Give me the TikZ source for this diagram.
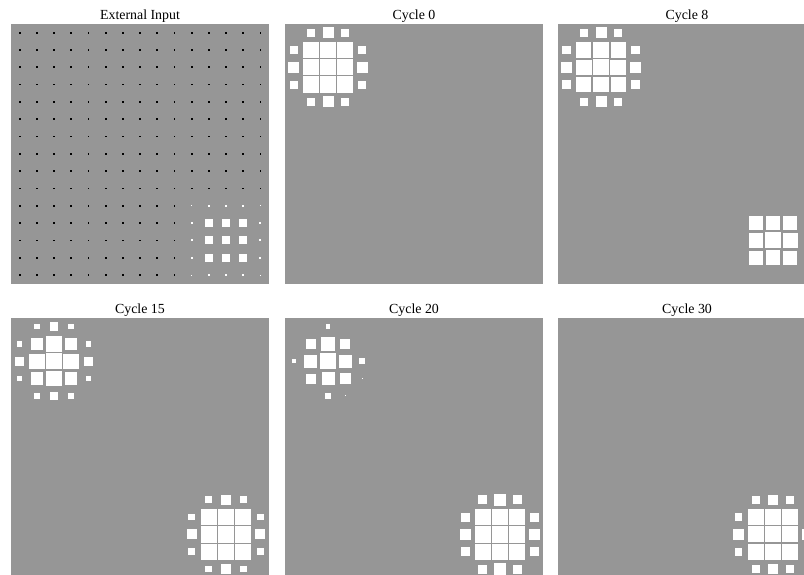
\documentclass[tikz,border=0pt]{standalone}
\usepackage{fontspec}
\setmainfont{Liberation Serif}
\definecolor{panelgray}{RGB}{150,150,150}
\tikzset{
  paneltitle/.style={anchor=base, font=\fontsize{10pt}{12pt}\selectfont, inner sep=0pt},
  panelbg/.style={fill=panelgray},
}
% square in cell (row, col) of size s (px), colour
\newcommand\hsq[4]{\fill[#4] ({(#2+0.5)*17.2-(#3)/2},{(#1+0.5)*17.313-(#3)/2}) rectangle ++(#3,#3);}
% blob: #1 R, #2 C, #3 core corner, #4 core edge, #5 core centre, #6 mid ring, #7 side ring
\newcommand\hblob[7]{%
  \hsq{#1}{#2}{#5}{white}%
  \hsq{#1-1}{#2}{#4}{white}\hsq{#1+1}{#2}{#4}{white}\hsq{#1}{#2-1}{#4}{white}\hsq{#1}{#2+1}{#4}{white}%
  \hsq{#1-1}{#2-1}{#3}{white}\hsq{#1-1}{#2+1}{#3}{white}\hsq{#1+1}{#2-1}{#3}{white}\hsq{#1+1}{#2+1}{#3}{white}%
  \hsq{#1-2}{#2}{#6}{white}\hsq{#1+2}{#2}{#6}{white}\hsq{#1}{#2-2}{#6}{white}\hsq{#1}{#2+2}{#6}{white}%
  \hsq{#1-2}{#2-1}{#7}{white}\hsq{#1-2}{#2+1}{#7}{white}\hsq{#1+2}{#2-1}{#7}{white}\hsq{#1+2}{#2+1}{#7}{white}%
  \hsq{#1-1}{#2-2}{#7}{white}\hsq{#1+1}{#2-2}{#7}{white}\hsq{#1-1}{#2+2}{#7}{white}\hsq{#1+1}{#2+2}{#7}{white}%
}
\newcommand\panelbox{\fill[panelbg] (0,0) rectangle (258,259.7);}
\begin{document}
\begin{tikzpicture}[x=0.72pt,y=-0.72pt]
\useasboundingbox (0,0) rectangle (804,575);
\clip (0,0) rectangle (804,575);
\fill[white] (0,0) rectangle (804,575);

% titles
\node[paneltitle] (t1) at (140,19.5) {External Input};
\node[paneltitle] (t2) at (414,19.5) {Cycle 0};
\node[paneltitle] (t3) at (687,19.5) {Cycle 8};
\node[paneltitle] (t4) at (140,313.5) {Cycle 15};
\node[paneltitle] (t5) at (414,313.5) {Cycle 20};
\node[paneltitle] (t6) at (687,313.5) {Cycle 30};

% External Input
\begin{scope}[shift={(11,24)}]
  \panelbox
  \foreach \r in {0,...,9} \foreach \c in {0,...,14} {\hsq{\r}{\c}{1.8}{black}}
  \foreach \r in {10,...,14} \foreach \c in {0,...,9} {\hsq{\r}{\c}{1.8}{black}}
  \hblob{12}{12}{8}{8}{8}{2}{2}
  \hsq{10}{10}{1}{white}\hsq{10}{14}{1}{white}\hsq{14}{10}{1}{white}\hsq{14}{14}{1}{white}
\end{scope}

% Cycle 0
\begin{scope}[shift={(285,24)}]
  \panelbox
  \hblob{2}{2}{16.2}{16.2}{16.2}{11}{8}
\end{scope}

% Cycle 8
\begin{scope}[shift={(558,24)}]
  \panelbox
  \hblob{2}{2}{15.2}{15.5}{15.8}{11}{8.3}
  \hsq{12}{12}{16}{white}
  \hsq{11}{12}{14.6}{white}\hsq{13}{12}{14.6}{white}\hsq{12}{11}{14.6}{white}\hsq{12}{13}{14.6}{white}
  \hsq{11}{11}{13.6}{white}\hsq{11}{13}{13.6}{white}\hsq{13}{11}{13.6}{white}\hsq{13}{13}{13.6}{white}
\end{scope}

% Cycle 15
\begin{scope}[shift={(11,318)}]
  \panelbox
  \hblob{2}{2}{12.5}{15.5}{16.2}{8.5}{5.5}
  \hblob{12}{12}{16.2}{16.2}{16.2}{10}{6.8}
\end{scope}

% Cycle 20
\begin{scope}[shift={(285,318)}]
  \panelbox
  \hsq{0}{2}{4.7}{white}
  \hsq{1}{1}{10}{white}\hsq{1}{2}{13.3}{white}\hsq{1}{3}{10}{white}
  \hsq{2}{0}{4}{white}\hsq{2}{1}{12.7}{white}\hsq{2}{2}{16}{white}\hsq{2}{3}{13}{white}\hsq{2}{4}{6}{white}
  \hsq{3}{1}{10}{white}\hsq{3}{2}{13}{white}\hsq{3}{3}{10.7}{white}\hsq{3}{4}{1}{white}
  \hsq{4}{2}{5.7}{white}\hsq{4}{3}{1}{white}
  \hblob{12}{12}{16.2}{16.2}{16.2}{11.7}{9}
\end{scope}

% Cycle 30
\begin{scope}[shift={(558,318)}]
  \panelbox
  \hblob{12}{12}{16}{16}{16}{10.5}{7.6}
\end{scope}
\end{tikzpicture}
\end{document}
